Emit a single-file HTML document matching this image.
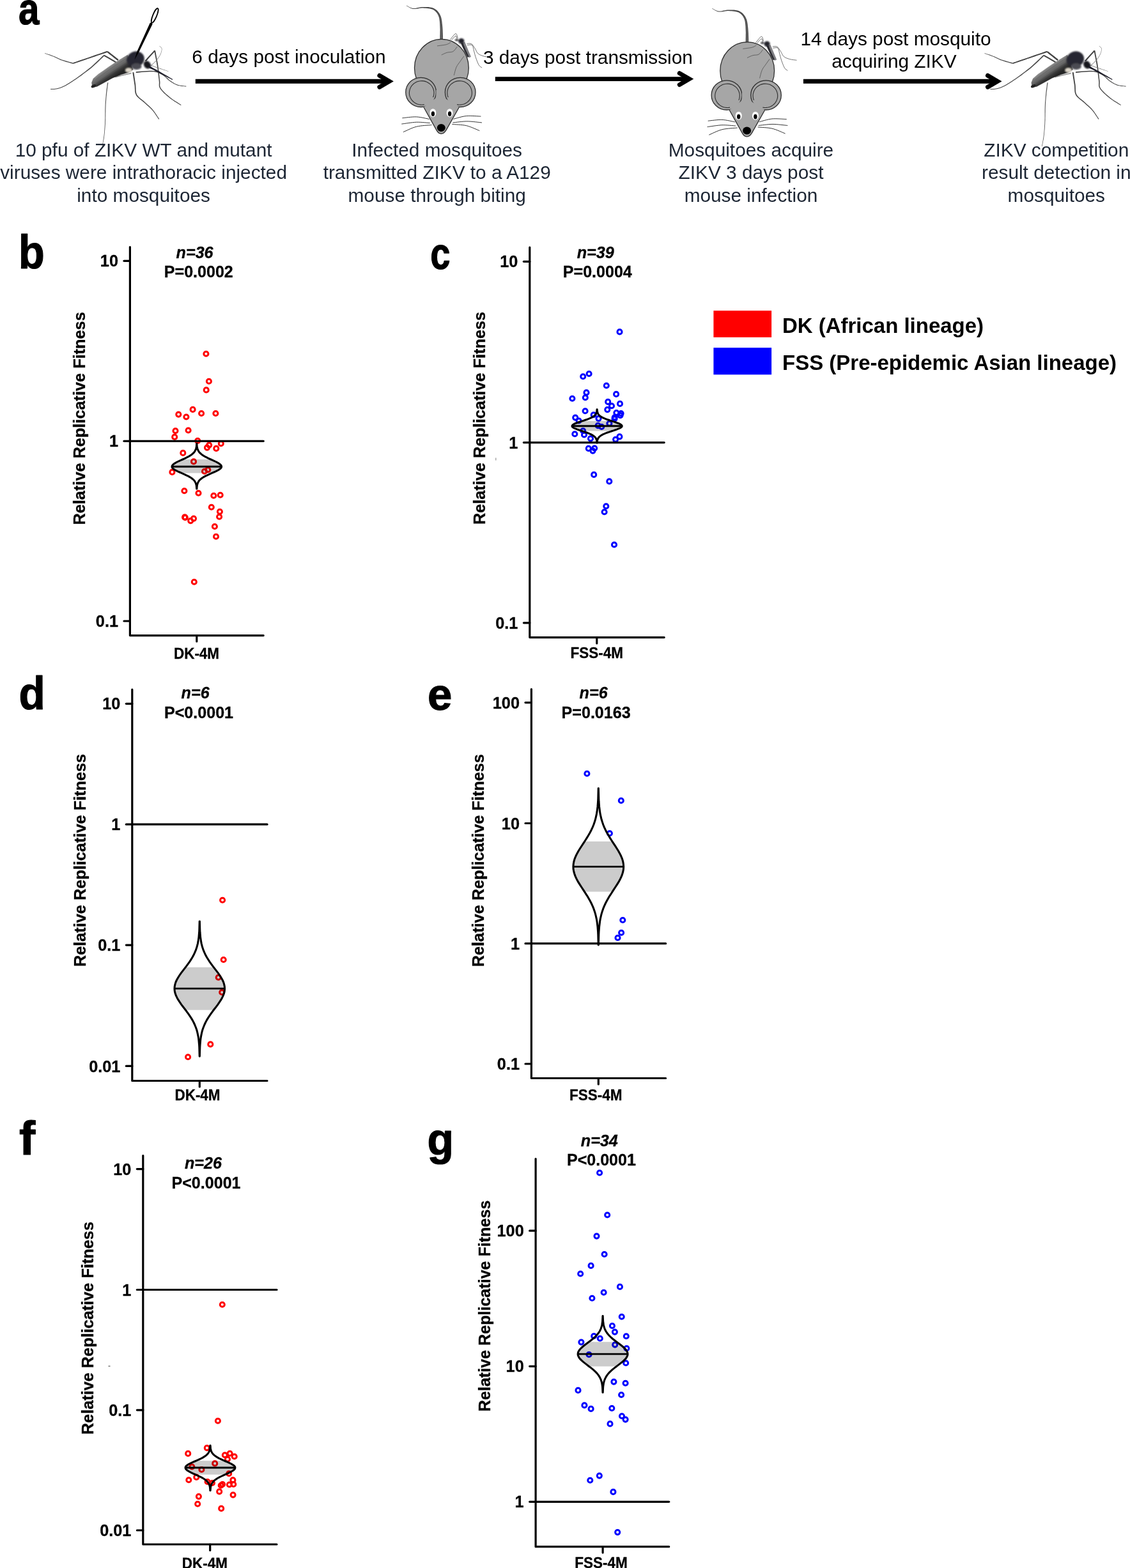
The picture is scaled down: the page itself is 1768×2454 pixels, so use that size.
<!DOCTYPE html>
<html lang="en"><head><meta charset="utf-8"><title>Figure</title>
<style>html,body{margin:0;padding:0;background:#fff}svg{display:block}</style></head><body>
<svg width="1768" height="2454" viewBox="0 0 1768 2454">
<rect width="1768" height="2454" fill="#fff"/>
<defs><filter id="bl" x="-20%" y="-20%" width="140%" height="140%"><feGaussianBlur stdDeviation="0.8"/></filter>
<linearGradient id="abg" gradientUnits="userSpaceOnUse" x1="167.2" y1="101.4" x2="179.7" y2="119.7"><stop offset="0" stop-color="#a6a6a6"/><stop offset="0.25" stop-color="#828282"/><stop offset="0.6" stop-color="#606060"/><stop offset="0.78" stop-color="#3a3a3a"/><stop offset="1" stop-color="#242424"/></linearGradient>
<g id="mosq">
<path d="M185.6 93 L184.2 91.9 L182.2 90.4 L179.8 88.5 L177.1 86.5 L174.5 84.5 L172.1 82.6 L170.1 81 L168.6 79.9 L167.3 81.7 L168.7 82.8 L170.7 84.4 L173.1 86.3 L175.7 88.3 L178.3 90.4 L180.7 92.3 L182.7 93.9 L184.1 95 Z" fill="#434343"/>
<path d="M167.6 79.8 L165.5 80.6 L162.7 81.5 L159.4 82.7 L155.7 83.9 L151.8 85.3 L147.9 86.6 L144 87.9 L140.5 89.2 L137 90.4 L133.2 91.7 L129.4 93 L125.6 94.3 L122 95.6 L118.8 96.7 L116.1 97.6 L114.1 98.3 L114.6 100 L116.7 99.3 L119.4 98.3 L122.6 97.2 L126.2 96 L129.9 94.7 L133.8 93.4 L137.6 92.1 L141.1 90.9 L144.6 89.7 L148.5 88.4 L152.4 87.1 L156.3 85.8 L160 84.5 L163.4 83.4 L166.2 82.4 L168.3 81.7 Z" fill="#434343"/>
<path d="M114.6 98.4 L113.2 98 L111.3 97.5 L109 96.9 L106.5 96.3 L104 95.6 L101.4 94.8 L99 94.1 L96.9 93.4 L95.1 92.7 L93.3 92 L91.7 91.3 L90.1 90.5 L88.5 89.8 L86.9 89.1 L85.3 88.3 L83.7 87.7 L81.9 87 L80 86.3 L78.1 85.6 L76.2 85 L74.4 84.4 L72.8 83.9 L71.4 83.4 L70.4 83.1 L70.2 83.8 L71.2 84.2 L72.5 84.6 L74.1 85.2 L75.9 85.8 L77.8 86.5 L79.7 87.2 L81.6 87.9 L83.3 88.6 L84.9 89.3 L86.5 90 L88 90.8 L89.6 91.5 L91.2 92.3 L92.9 93.1 L94.6 93.9 L96.5 94.6 L98.6 95.3 L101 96.1 L103.6 96.9 L106.2 97.6 L108.6 98.3 L110.9 98.9 L112.8 99.5 L114.1 99.9 Z" fill="#505050"/>
<path d="M182.4 96.8 L180.8 95.9 L178.6 94.5 L175.8 93 L172.9 91.3 L169.9 89.6 L167.2 88.1 L164.9 86.8 L163.3 85.8 L162.3 87.5 L163.9 88.4 L166.2 89.7 L168.9 91.3 L171.9 93 L174.8 94.8 L177.5 96.3 L179.8 97.7 L181.4 98.6 Z" fill="#434343"/>
<path d="M162.2 86 L160.6 87.5 L158.6 89.5 L156.1 91.9 L153.4 94.5 L150.5 97.3 L147.5 100 L144.6 102.7 L141.8 105.2 L138.9 107.5 L136 109.8 L133 112.2 L129.9 114.5 L126.9 116.8 L123.9 118.9 L121.1 121 L118.4 122.9 L115.9 124.6 L113.5 126.2 L111.1 127.8 L108.9 129.2 L106.7 130.5 L104.7 131.8 L102.7 132.9 L100.9 133.9 L99.1 134.8 L97.5 135.6 L96 136.2 L94.6 136.8 L93.3 137.2 L91.9 137.6 L90.6 138 L89.3 138.3 L87.9 138.6 L86.4 138.8 L84.9 138.9 L83.5 139 L82.1 139 L80.9 139 L79.9 139.1 L79.1 139.1 L79.1 140 L79.9 140 L80.9 140 L82.1 139.9 L83.5 139.9 L85 139.9 L86.5 139.7 L88 139.6 L89.5 139.3 L90.9 139 L92.2 138.6 L93.6 138.2 L95 137.7 L96.4 137.2 L98 136.5 L99.6 135.8 L101.4 134.9 L103.3 133.9 L105.3 132.8 L107.4 131.5 L109.5 130.2 L111.8 128.8 L114.1 127.3 L116.6 125.6 L119.1 123.9 L121.8 122 L124.7 120 L127.7 117.9 L130.7 115.6 L133.8 113.3 L136.9 111 L139.9 108.7 L142.8 106.4 L145.6 103.9 L148.6 101.2 L151.7 98.5 L154.6 95.7 L157.3 93.1 L159.8 90.8 L161.9 88.8 L163.4 87.3 Z" fill="#484848"/>
<path d="M168.1 129.2 L167.9 130.5 L167.6 132.3 L167.4 134.4 L167.1 136.8 L166.7 139.3 L166.4 141.9 L166.1 144.4 L165.9 146.8 L165.7 149.1 L165.5 151.4 L165.3 153.6 L165.1 155.9 L164.9 158.3 L164.7 160.7 L164.6 163.3 L164.5 166 L164.4 168.8 L164.3 171.9 L164.3 175 L164.3 178.3 L164.3 181.5 L164.3 184.8 L164.2 187.9 L164.1 190.9 L164 193.9 L163.8 196.8 L163.6 199.7 L163.4 202.5 L163.2 205.2 L163 207.9 L162.7 210.5 L162.4 212.9 L162.1 215.3 L161.7 217.8 L161.3 220.1 L160.9 222.4 L160.5 224.5 L160.1 226.3 L159.8 227.9 L159.5 229.1 L160.2 229.2 L160.5 228 L160.8 226.4 L161.2 224.6 L161.6 222.5 L162 220.3 L162.5 217.9 L162.9 215.5 L163.2 213 L163.5 210.6 L163.8 208 L164 205.3 L164.3 202.6 L164.5 199.7 L164.7 196.8 L164.9 193.9 L165 191 L165.2 187.9 L165.2 184.8 L165.3 181.5 L165.3 178.3 L165.4 175 L165.4 171.9 L165.5 168.9 L165.6 166 L165.7 163.3 L165.9 160.8 L166 158.4 L166.2 156 L166.4 153.7 L166.6 151.5 L166.9 149.2 L167.1 146.9 L167.3 144.6 L167.7 142 L168 139.5 L168.3 137 L168.6 134.6 L168.9 132.5 L169.2 130.7 L169.3 129.3 Z" fill="#5c5c5c"/>
<path d="M207.4 113.3 L207.6 114.7 L207.9 116.8 L208.3 119.1 L208.7 121.8 L209.2 124.6 L209.6 127.3 L210 130 L210.4 132.3 L210.7 134.5 L210.8 136.6 L210.9 138.7 L211 140.8 L211.1 142.8 L211.4 144.9 L212 146.8 L212.8 148.7 L213.9 150.5 L215.3 152.1 L216.9 153.6 L218.6 155.1 L220.4 156.5 L222.2 157.8 L223.9 159.2 L225.5 160.6 L227.1 162.1 L228.7 163.5 L230.3 164.9 L231.9 166.3 L233.5 167.7 L235.1 169.2 L236.6 170.7 L238 172.2 L239.5 174 L241 176 L242.5 178.1 L243.9 180.2 L245.3 182.3 L246.5 184.1 L247.5 185.7 L248.3 186.8 L249.2 186.3 L248.4 185.1 L247.4 183.6 L246.2 181.7 L244.8 179.6 L243.4 177.5 L241.9 175.3 L240.4 173.3 L238.9 171.5 L237.5 169.8 L235.9 168.3 L234.4 166.8 L232.8 165.3 L231.2 163.9 L229.6 162.5 L228 161 L226.4 159.6 L224.8 158.1 L223.1 156.7 L221.3 155.3 L219.6 153.9 L217.9 152.5 L216.5 151.1 L215.2 149.6 L214.2 148 L213.5 146.3 L213 144.5 L212.8 142.7 L212.6 140.7 L212.6 138.6 L212.5 136.5 L212.4 134.3 L212.2 132.1 L211.8 129.7 L211.4 127 L211 124.3 L210.6 121.5 L210.2 118.8 L209.9 116.5 L209.6 114.4 L209.3 112.9 Z" fill="#434343"/>
<path d="M228.3 96.2 L229.5 94.9 L231.2 92.9 L233.3 90.6 L235.6 88.1 L237.8 85.6 L239.9 83.3 L241.7 81.4 L242.9 80 L241.4 78.6 L240.2 80 L238.4 81.9 L236.3 84.2 L234 86.7 L231.7 89.2 L229.6 91.5 L227.9 93.4 L226.6 94.7 Z" fill="#434343"/>
<path d="M241.2 79.5 L241.6 81.3 L242.1 83.7 L242.6 86.6 L243.3 89.8 L243.9 93.1 L244.6 96.6 L245.2 99.9 L245.7 103 L246.2 106 L246.6 109.1 L247 112.2 L247.4 115.4 L247.8 118.5 L248.1 121.4 L248.5 124 L248.7 126.4 L248.9 128.4 L248.9 130 L248.8 131.4 L248.8 132.7 L248.8 134 L249 135.4 L249.5 136.8 L250.4 138.4 L251.6 140.2 L253.1 142 L254.9 143.9 L256.8 145.9 L258.9 147.8 L261 149.7 L263.2 151.5 L265.3 153.2 L267.5 154.9 L269.9 156.6 L272.5 158.4 L275.1 160 L277.5 161.5 L279.8 162.9 L281.6 164.1 L283 164.9 L283.5 164.1 L282.2 163.2 L280.3 162 L278.1 160.6 L275.7 159.1 L273.1 157.4 L270.6 155.7 L268.2 154 L266 152.3 L264 150.6 L261.9 148.8 L259.8 146.9 L257.7 145 L255.8 143 L254.1 141.2 L252.7 139.4 L251.5 137.7 L250.8 136.3 L250.4 135 L250.2 133.9 L250.2 132.8 L250.3 131.5 L250.4 130 L250.4 128.3 L250.2 126.2 L249.9 123.9 L249.6 121.2 L249.3 118.3 L249 115.2 L248.6 112.1 L248.2 108.9 L247.8 105.7 L247.4 102.7 L246.9 99.6 L246.3 96.2 L245.7 92.8 L245 89.4 L244.4 86.2 L243.9 83.4 L243.4 81 L243.1 79.1 Z" fill="#434343"/>
<path d="M212.8 113.9 L215.1 113.8 L218.2 113.5 L221.8 113.1 L225.9 112.8 L230 112.5 L234 112.3 L237.6 112.2 L240.6 112.3 L243 112.7 L245.2 113.2 L247.1 113.8 L248.8 114.5 L250.4 115.4 L252 116.2 L253.5 117.1 L255 118.1 L256.5 119 L257.8 120 L259.1 121.1 L260.3 122.3 L261.4 123.5 L262.7 124.6 L263.9 125.8 L265.3 126.8 L266.7 127.8 L268.1 128.7 L269.5 129.6 L271 130.5 L272.5 131.3 L274 132.1 L275.6 132.8 L277.2 133.4 L279 133.9 L281 134.3 L283 134.7 L285 134.9 L287 135.1 L288.7 135.3 L290.2 135.4 L291.3 135.6 L291.4 134.7 L290.3 134.5 L288.8 134.4 L287.1 134.2 L285.2 134 L283.1 133.7 L281.1 133.4 L279.2 132.9 L277.6 132.4 L276 131.8 L274.5 131.2 L273 130.4 L271.6 129.6 L270.1 128.7 L268.7 127.8 L267.3 126.8 L266 125.9 L264.7 124.9 L263.5 123.8 L262.3 122.6 L261.1 121.4 L259.9 120.2 L258.6 119.1 L257.2 118 L255.7 117 L254.2 116 L252.6 115.1 L251.1 114.2 L249.4 113.3 L247.6 112.5 L245.6 111.8 L243.3 111.3 L240.7 110.9 L237.6 110.7 L233.9 110.8 L229.9 110.9 L225.7 111.2 L221.7 111.5 L218 111.8 L214.9 112.1 L212.7 112.3 Z" fill="#434343"/>
<path d="M180.6 121.4 L181.6 121.2 L182.9 120.8 L184.4 120.4 L186.1 120 L187.9 119.5 L189.7 119.1 L191.5 118.6 L193.1 118.2 L194.8 117.8 L196.5 117.4 L198.3 117 L200.1 116.6 L201.8 116.2 L203.4 115.9 L204.6 115.6 L205.6 115.4 L205.2 113.8 L204.3 114 L203 114.3 L201.5 114.7 L199.8 115.1 L198 115.5 L196.2 115.9 L194.4 116.4 L192.8 116.8 L191.1 117.2 L189.3 117.7 L187.5 118.1 L185.7 118.6 L184 119.1 L182.5 119.5 L181.2 119.8 L180.3 120.1 Z" fill="#8f8f8f"/>
<path d="M233.2 101.8 L234.3 102.2 L235.8 102.7 L237.6 103.3 L239.6 104 L241.7 104.7 L243.8 105.4 L245.9 106.2 L247.9 106.8 L249.9 107.5 L252.1 108.2 L254.3 108.9 L256.6 109.7 L258.7 110.3 L260.6 111 L262.2 111.5 L263.4 111.9 L263.5 111.4 L262.3 111 L260.7 110.5 L258.8 109.8 L256.7 109.1 L254.5 108.4 L252.3 107.6 L250.1 106.8 L248.1 106.2 L246.2 105.5 L244.1 104.7 L241.9 104 L239.8 103.2 L237.9 102.5 L236.1 101.9 L234.6 101.3 L233.5 100.9 Z" fill="#777"/>
<path d="M236.6 103.1 L237.3 102.5 L238.2 101.6 L239.4 100.5 L240.6 99.3 L241.9 98 L243.2 96.7 L244.4 95.4 L245.4 94.3 L246.3 93.2 L247.1 92 L248 90.9 L248.7 89.8 L249.5 88.7 L250.1 87.6 L250.7 86.5 L251.3 85.3 L251.8 84.2 L252.2 83 L252.6 81.8 L253 80.6 L253.2 79.4 L253.4 78.3 L253.5 77.3 L253.5 76.3 L253.3 75.5 L252.8 74.7 L252.3 74 L251.7 73.4 L251 72.9 L250.5 72.4 L250 72.1 L249.7 71.8 L249.3 72.2 L249.6 72.5 L250.1 72.9 L250.7 73.3 L251.2 73.9 L251.8 74.4 L252.3 75 L252.7 75.7 L252.8 76.4 L252.9 77.3 L252.8 78.2 L252.6 79.3 L252.3 80.4 L252 81.6 L251.6 82.8 L251.1 83.9 L250.6 85 L250.1 86.1 L249.5 87.2 L248.8 88.3 L248.1 89.4 L247.3 90.5 L246.5 91.6 L245.7 92.7 L244.8 93.7 L243.8 94.9 L242.6 96.1 L241.3 97.4 L240 98.7 L238.8 99.8 L237.6 100.9 L236.7 101.8 L235.9 102.5 Z" fill="#8a8a8a"/>
<path d="M199.5 85.9 L186.3 94 L168.7 105.8 L154 116 L145.9 123.1 L143.4 129.3 L144.5 136.9 L151.8 135.4 L162.8 129.6 L176 122.2 L189.3 117.1 L201 113.4 L208.4 109 Z" fill="url(#abg)" stroke="#555" stroke-width="0.5" stroke-opacity="0.5"/>
<path d="M196.6 91.8 C192.9 94.3 182.4 101 174.6 106.5 C166.7 112 153.8 121.8 149.6 124.9" fill="none" stroke="#5a5a5a" stroke-width="0.7" stroke-opacity="0.7"/>
<path d="M198.8 97.7 C195.3 100 185.5 106.2 177.5 111.6 C169.6 117 155.5 126.9 151.1 130" fill="none" stroke="#4a4a4a" stroke-width="0.7" stroke-opacity="0.7"/>
<path d="M192.2 91.1 C188.8 93.2 179 98.3 171.6 103.6 C164.3 108.8 152 119.5 148.1 122.6" fill="none" stroke="#a2a2a2" stroke-width="0.7" stroke-opacity="0.7"/>
<ellipse cx="146.4" cy="134.8" rx="4" ry="2.2" fill="#222" transform="rotate(-25 146.4 134.8)"/>
<g filter="url(#bl)">
<ellipse cx="201.3" cy="109.9" rx="5.5" ry="3.8" fill="#ddd7ca"/>
<ellipse cx="212" cy="92.8" rx="14" ry="12.2" fill="#272730" transform="rotate(-20 212 92.8)"/>
<ellipse cx="213.5" cy="104" rx="8" ry="5" fill="#4c4c52"/>
<ellipse cx="230.4" cy="101.4" rx="5.2" ry="6.4" fill="#14141e" transform="rotate(-35 230.4 101.4)"/>
</g>
<path d="M232.7 105.8 L234 106.5 L235.8 107.4 L238 108.4 L240.4 109.6 L242.9 110.9 L245.5 112.2 L248.1 113.5 L250.5 114.7 L252.9 116 L255.6 117.4 L258.4 118.9 L261.2 120.4 L263.9 121.9 L266.3 123.1 L268.3 124.2 L269.8 125 L270.3 124.1 L268.9 123.2 L266.9 122 L264.6 120.7 L262 119.1 L259.2 117.5 L256.5 115.9 L253.9 114.4 L251.4 113 L249.1 111.6 L246.5 110.2 L244 108.8 L241.5 107.5 L239.2 106.2 L237.1 105 L235.3 104.1 L234 103.3 Z" fill="#1b1b28"/>
</g><filter id="bl3" x="-30%" y="-30%" width="160%" height="160%"><feGaussianBlur stdDeviation="0.8"/></filter>
<g id="mouse">
<path d="M693 62.4 L692.9 60.8 L692.9 58.6 L692.9 56 L692.8 53.1 L692.7 50 L692.6 47 L692.4 44.1 L692.2 41.5 L692 39.1 L691.7 36.8 L691.5 34.4 L691.2 32.2 L690.8 29.9 L690.3 27.8 L689.7 25.8 L688.9 23.9 L688 22.1 L687 20.4 L685.9 18.9 L684.7 17.4 L683.3 16.1 L681.9 14.9 L680.3 13.9 L678.7 13 L676.8 12.2 L674.8 11.7 L672.7 11.4 L670.6 11.1 L668.4 11 L666.2 10.9 L664.1 10.9 L662 10.9 L659.9 11 L657.9 11.3 L655.8 11.7 L653.7 12.1 L651.8 12.5 L649.9 12.9 L648.1 13 L646.5 13 L644.9 12.8 L643.4 12.3 L641.8 11.7 L640.4 11 L639.1 10.3 L637.9 9.6 L636.9 9 L636.1 8.6 L635.9 9.1 L636.6 9.5 L637.6 10.1 L638.8 10.8 L640.1 11.6 L641.5 12.4 L643.1 13.1 L644.7 13.7 L646.4 14 L648.1 14.1 L650 14 L652 13.8 L654 13.4 L656 13.1 L658.1 12.8 L660.1 12.6 L662 12.6 L664 12.7 L666.1 12.8 L668.3 12.9 L670.4 13.2 L672.4 13.5 L674.3 13.9 L676.1 14.4 L677.6 15.1 L679 16 L680.3 16.9 L681.5 18 L682.6 19.2 L683.7 20.5 L684.6 21.9 L685.4 23.5 L686.1 25 L686.7 26.7 L687.2 28.6 L687.5 30.5 L687.8 32.6 L688 34.8 L688.2 37.1 L688.3 39.4 L688.4 41.7 L688.5 44.3 L688.6 47.1 L688.5 50.1 L688.5 53.1 L688.4 56 L688.4 58.6 L688.3 60.8 L688.3 62.4 Z" fill="#484848"/>
<path d="M691.5 62.4 L691.5 60.8 L691.5 58.6 L691.5 56 L691.4 53.1 L691.4 50.1 L691.3 47 L691.1 44.2 L690.9 41.6 L690.7 39.2 L690.5 36.9 L690.2 34.6 L689.9 32.3 L689.6 30.2 L689.1 28.1 L688.5 26.1 L687.8 24.3 L686.9 22.6 L685.6 20.9 L684.3 19.4 L682.8 18 L681.4 16.7 L680.1 15.6 L679 14.7 L678.2 13.9 L678 14.2 L678.8 14.9 L679.9 15.9 L681.1 17 L682.5 18.3 L683.9 19.8 L685.2 21.3 L686.3 22.9 L687.2 24.6 L687.8 26.4 L688.3 28.3 L688.7 30.3 L689 32.4 L689.2 34.7 L689.4 37 L689.6 39.3 L689.7 41.7 L689.8 44.2 L689.9 47.1 L689.9 50.1 L689.9 53.1 L689.8 56 L689.8 58.6 L689.7 60.8 L689.7 62.4 Z" fill="#6a6a6a"/>
<ellipse cx="690.9" cy="106.3" rx="42.4" ry="44.9" fill="#a6a6a6" stroke="#2e2e2e" stroke-width="1.3"/>
<rect x="672" y="128" width="36" height="34" fill="#a6a6a6"/>
<ellipse cx="658.6" cy="144.4" rx="23.8" ry="23.1" fill="#a6a6a6" stroke="#2e2e2e" stroke-width="1.3"/>
<ellipse cx="720.2" cy="144.4" rx="23.8" ry="23.1" fill="#a6a6a6" stroke="#2e2e2e" stroke-width="1.3"/>
<path d="M677.6 152.3 L678.5 149.7 L678.9 147 L679 144.2 L678.6 141.5 L677.8 138.8 L676.6 136.3 L675.1 134 L673.2 131.9 L671 130.2 L668.6 128.7 L666 127.6 L663.3 126.9 L660.4 126.6 L657.6 126.7 L654.8 127.2 L652.1 128.1 L649.6 129.4 L647.3 131 L645.3 132.9 L643.5 135.1 L642.2 137.5 L641.2 140.1 L640.6 142.8 L640.4 145.5 L640.6 148.3 L641.3 150.9 L642.4 153.5 L643.8 155.9 L645.6 158 L647.6 159.9 L650 161.5 L652.5 162.7 L655.2 163.5 L658.1 163.9 L660.9 164 L663.7 163.6" fill="none" stroke="#2e2e2e" stroke-width="1.1"/>
<path d="M701.2 152.3 L700.3 149.7 L699.9 147 L699.8 144.2 L700.2 141.5 L701 138.8 L702.2 136.3 L703.7 134 L705.6 131.9 L707.8 130.2 L710.2 128.7 L712.8 127.6 L715.5 126.9 L718.4 126.6 L721.2 126.7 L724 127.2 L726.7 128.1 L729.2 129.4 L731.5 131 L733.5 132.9 L735.3 135.1 L736.6 137.5 L737.6 140.1 L738.2 142.8 L738.4 145.5 L738.2 148.3 L737.5 150.9 L736.4 153.5 L735 155.9 L733.2 158 L731.2 159.9 L728.8 161.5 L726.3 162.7 L723.6 163.5 L720.7 163.9 L717.9 164 L715.1 163.6" fill="none" stroke="#2e2e2e" stroke-width="1.1"/>
<path d="M662.9 167.7 L682.8 203.4 Q685.8 209.3 690.3 209.3 Q694.8 209.3 698.2 203.4 L718.4 167.7 L695.1 152.9 L695.1 140.9 L682.4 140.9 L682.4 152.9 Z" fill="#a6a6a6"/>
<path d="M662.9 167.7 L682.8 203.4 Q685.8 209.3 690.3 209.3 Q694.8 209.3 698.2 203.4 L718.4 167.7" fill="none" stroke="#2e2e2e" stroke-width="1.3" stroke-linejoin="round"/>
<ellipse cx="677.4" cy="176.7" rx="5" ry="6.5" fill="#fff"/>
<ellipse cx="677.4" cy="178.1" rx="2.7" ry="3.9" fill="#000"/>
<ellipse cx="703.6" cy="176.7" rx="5" ry="6.5" fill="#fff"/>
<ellipse cx="703.6" cy="178.1" rx="2.7" ry="3.9" fill="#000"/>
<ellipse cx="690.3" cy="200" rx="6.5" ry="5.9" fill="#000"/>
<g fill="none" stroke="#333" stroke-width="1" stroke-linecap="round">
<path d="M671.4 186.4 C668.1 185.8 658.6 183.2 651.6 182.9 C644.7 182.6 633.4 184.4 629.8 184.7"/>
<path d="M672.4 192.5 C669 192.3 658.9 191 651.6 191.2 C644.3 191.5 632.5 193.6 628.7 194"/>
<path d="M675 195.6 C671.1 196 658.9 196.4 651.6 198.2 C644.3 200 634.7 205.1 631.3 206.5"/>
<path d="M709.9 186.2 C713.2 185.4 722.6 182.2 729.6 181.5 C736.7 180.9 748.3 182 752 182.1"/>
<path d="M708.8 191.9 C712.5 191.6 723.2 189.9 730.7 189.9 C738.1 189.9 749.8 191.6 753.6 191.9"/>
<path d="M707.8 194.5 C711.4 194.9 722.6 195 729.6 196.6 C736.7 198.3 746.5 203.1 749.9 204.4"/>
</g>
<g fill="none" stroke="#454545" stroke-width="0.7" stroke-linecap="round">
<path d="M684.4 71.8 C686.7 71.4 695 70.6 698.4 69.7 C701.8 68.8 703.6 67.1 704.7 66.6"/>
<path d="M691.1 85.8 C692.5 85.2 696.5 83.1 699.5 82.2 C702.4 81.3 706.2 82.1 708.8 80.6 C711.4 79.2 714 74.6 715.1 73.3"/>
<path d="M710.4 117.6 C711 115.5 712.4 108.7 714 105.1 C715.7 101.4 718.4 98.5 720.3 95.7 C722.2 92.9 724.6 89.6 725.5 88.4"/>
</g>
<g fill="none" stroke="#505050" stroke-width="0.8" stroke-linecap="round">
<path d="M730.9 68.4 C732 68.4 735.6 67.4 737.7 68.7 C739.7 69.9 741.4 73.4 743.2 75.9 C744.9 78.5 745.7 81.9 748.1 84 C750.4 86 754.1 87.2 757.4 88.1 C760.7 89.1 766.1 89.4 767.8 89.7"/>
<path d="M731.4 70.7 C732.6 70.7 737 69.2 738.7 70.7 C740.4 72.3 740.7 77 741.6 80.1 C742.5 83.2 743 85.9 744.2 89.5 C745.5 93.1 747.5 98.9 749.1 101.6 C750.7 104.4 753 105.1 753.8 105.8"/>
<path d="M704.2 62.4 C705.3 61 709.3 55.7 710.9 54.1 C712.6 52.5 713.2 52.2 714 53.1 C714.9 53.9 715.8 58.3 716.1 59.3"/>
<path d="M706.8 62.4 C707.8 61.4 711.6 56.4 713 56.2 C714.4 55.9 714.7 60.1 715.1 60.9"/>
</g>
<path d="M722.9 67.4 L723.3 68.3 L723.9 69.5 L724.5 70.9 L725.3 72.4 L726.1 74.1 L726.9 75.7 L727.6 77.3 L728.3 78.8 L729 80.3 L729.8 82 L730.6 83.6 L731.3 85.3 L732 86.8 L732.7 88.3 L733.2 89.4 L733.7 90.3 L736.9 88.9 L736.6 88 L736.1 86.8 L735.5 85.3 L734.8 83.8 L734.1 82.1 L733.4 80.4 L732.7 78.7 L732.1 77.2 L731.4 75.6 L730.7 74 L730 72.3 L729.3 70.6 L728.6 69 L728 67.6 L727.5 66.4 L727.1 65.6 Z" fill="#808084"/>
<path d="M721 67.6 L721.4 68.5 L721.9 69.6 L722.4 70.9 L723.1 72.4 L723.8 74 L724.5 75.6 L725.2 77.1 L725.9 78.6 L726.6 80.1 L727.4 81.6 L728.2 83.3 L729 84.9 L729.8 86.4 L730.5 87.7 L731.1 88.9 L731.5 89.7 L733.7 88.7 L733.3 87.8 L732.7 86.6 L732.1 85.2 L731.4 83.7 L730.6 82.1 L729.9 80.5 L729.2 78.9 L728.5 77.4 L727.9 75.9 L727.3 74.4 L726.7 72.8 L726 71.2 L725.5 69.7 L724.9 68.3 L724.5 67.2 L724.2 66.4 Z" fill="#2c2c32"/>
<g filter="url(#bl3)">
<ellipse cx="721.8" cy="64.2" rx="4.6" ry="4.2" fill="#24242c"/>
<ellipse cx="714.4" cy="62.7" rx="2.7" ry="1.4" fill="#0e0e16"/>
</g>
</g></defs>
<use href="#mosq"/>
<ellipse cx="242.2" cy="24.3" rx="12.1" ry="3" transform="rotate(112.5 242.2 24.3)" fill="#fff" stroke="#000" stroke-width="1.8"/>
<path d="M234.6 35.9 L214.3 80.7 L210.5 93.6 L217.1 82.1 L238.6 37.7 L237.4 35 Z" fill="#000"/>
<use href="#mosq" transform="translate(1470.3 0)"/>
<use href="#mouse"/>
<use href="#mouse" transform="translate(478.3 4.5)"/>
<line x1="305.8" y1="127.2" x2="609.1" y2="127.2" stroke="#000" stroke-width="6.9"/><path d="M593.8 118.2 L609.1 127.2 L593.8 136.2" fill="none" stroke="#000" stroke-width="6.9" stroke-linecap="round" stroke-linejoin="miter"/>
<line x1="774.8" y1="123.6" x2="1078.5" y2="123.6" stroke="#000" stroke-width="6.9"/><path d="M1063.2 114.6 L1078.5 123.6 L1063.2 132.6" fill="none" stroke="#000" stroke-width="6.9" stroke-linecap="round" stroke-linejoin="miter"/>
<line x1="1256.9" y1="127.2" x2="1560.7" y2="127.2" stroke="#000" stroke-width="6.9"/><path d="M1545.4 118.2 L1560.7 127.2 L1545.4 136.2" fill="none" stroke="#000" stroke-width="6.9" stroke-linecap="round" stroke-linejoin="miter"/>
<g font-family="Liberation Sans, Arial, sans-serif" font-size="29.8" fill="#000" text-anchor="middle">
<text x="451.9" y="98.8">6 days post inoculation</text>
<text x="919.9" y="100.1">3 days post transmission</text>
<text x="1401.5" y="70.5">14 days post mosquito</text>
<text x="1398.9" y="106">acquiring ZIKV</text>
</g>
<g font-family="Liberation Sans, Arial, sans-serif" font-size="29.8" fill="#1c2533" text-anchor="middle">
<text x="224.6" y="244.7">10 pfu of ZIKV WT and mutant</text>
<text x="224.6" y="280.4">viruses were intrathoracic injected</text>
<text x="224.6" y="316.2">into mosquitoes</text>
<text x="683.7" y="244.7">Infected mosquitoes</text>
<text x="683.7" y="280.4">transmitted ZIKV to a A129</text>
<text x="683.7" y="316.2">mouse through biting</text>
<text x="1175" y="244.7">Mosquitoes acquire</text>
<text x="1175" y="280.4">ZIKV 3 days post</text>
<text x="1175" y="316.2">mouse infection</text>
<text x="1652.8" y="244.7">ZIKV competition</text>
<text x="1652.8" y="280.4">result detection in</text>
<text x="1652.8" y="316.2">mosquitoes</text>
</g>
<text transform="translate(29 38.3) scale(0.834 1)" font-family="Liberation Sans, Arial, sans-serif" font-weight="bold" font-size="69.9" fill="#000" stroke="#000" stroke-width="1.2" stroke-linejoin="round">a</text>
<!-- panel b -->
<g fill="none" stroke="#ff0000" stroke-width="3">
<circle cx="322.4" cy="553.7" r="3.55"/>
<circle cx="326.9" cy="596.7" r="3.55"/>
<circle cx="322.7" cy="610.4" r="3.55"/>
<circle cx="301.6" cy="640.9" r="3.55"/>
<circle cx="279.3" cy="648.6" r="3.55"/>
<circle cx="291.4" cy="652.5" r="3.55"/>
<circle cx="315.1" cy="647" r="3.55"/>
<circle cx="337.4" cy="647" r="3.55"/>
<circle cx="274.5" cy="674.2" r="3.55"/>
<circle cx="294.6" cy="673.5" r="3.55"/>
<circle cx="273.2" cy="683.9" r="3.55"/>
<circle cx="309.2" cy="689.9" r="3.55"/>
<circle cx="345.8" cy="694.2" r="3.55"/>
<circle cx="327.2" cy="696.6" r="3.55"/>
<circle cx="324" cy="700.6" r="3.55"/>
<circle cx="338.3" cy="701.9" r="3.55"/>
<circle cx="286.3" cy="708.9" r="3.55"/>
<circle cx="303" cy="722.4" r="3.55"/>
<circle cx="325.3" cy="735.3" r="3.55"/>
<circle cx="320" cy="737.7" r="3.55"/>
<circle cx="269.4" cy="738.9" r="3.55"/>
<circle cx="288.4" cy="768.3" r="3.55"/>
<circle cx="310.5" cy="771.8" r="3.55"/>
<circle cx="334.3" cy="775.8" r="3.55"/>
<circle cx="344.7" cy="774.7" r="3.55"/>
<circle cx="330.8" cy="793.8" r="3.55"/>
<circle cx="343.9" cy="800.8" r="3.55"/>
<circle cx="343.1" cy="808.7" r="3.55"/>
<circle cx="289.8" cy="810" r="3.55"/>
<circle cx="289.1" cy="809.4" r="3.55"/>
<circle cx="303" cy="811.6" r="3.55"/>
<circle cx="298.2" cy="815.1" r="3.55"/>
<circle cx="335.9" cy="824" r="3.55"/>
<circle cx="338" cy="839.8" r="3.55"/>
<circle cx="303.8" cy="910.7" r="3.55"/>
</g>
<clipPath id="cpb"><path d="M307.9 694.2 L308 695.4 L308 696.6 L308.2 697.7 L308.3 698.9 L308.5 700.1 L308.7 701.3 L309 702.5 L309.5 703.6 L310 704.8 L310.6 706 L311.4 707.2 L312.4 708.4 L313.5 709.5 L314.9 710.7 L316.4 711.9 L318.2 713.1 L320.2 714.3 L322.4 715.4 L324.7 716.6 L327.2 717.8 L329.8 719 L332.4 720.2 L335 721.3 L337.5 722.5 L339.8 723.7 L341.9 724.9 L343.6 726.1 L345 727.2 L346 728.4 L346.5 729.6 L346.6 730.8 L346.1 732 L345.1 733.1 L343.7 734.3 L341.9 735.5 L339.7 736.7 L337.3 737.9 L334.7 739 L332 740.2 L329.3 741.4 L326.6 742.6 L324.1 743.8 L321.7 744.9 L319.5 746.1 L317.5 747.3 L315.7 748.5 L314.2 749.7 L312.9 750.8 L311.8 752 L310.9 753.2 L310.2 754.4 L309.6 755.6 L309.2 756.7 L308.8 757.9 L308.5 759.1 L308.3 760.3 L308.2 761.5 L308.1 762.6 L308 763.8 L307.9 765 L307.7 765 L307.6 763.8 L307.5 762.6 L307.4 761.5 L307.3 760.3 L307.1 759.1 L306.8 757.9 L306.4 756.7 L306 755.6 L305.4 754.4 L304.7 753.2 L303.8 752 L302.7 750.8 L301.4 749.7 L299.9 748.5 L298.1 747.3 L296.1 746.1 L293.9 744.9 L291.5 743.8 L289 742.6 L286.3 741.4 L283.6 740.2 L280.9 739 L278.3 737.9 L275.9 736.7 L273.7 735.5 L271.9 734.3 L270.5 733.1 L269.5 732 L269 730.8 L269.1 729.6 L269.6 728.4 L270.6 727.2 L272 726.1 L273.7 724.9 L275.8 723.7 L278.1 722.5 L280.6 721.3 L283.2 720.2 L285.8 719 L288.4 717.8 L290.9 716.6 L293.2 715.4 L295.4 714.3 L297.4 713.1 L299.2 711.9 L300.7 710.7 L302.1 709.5 L303.2 708.4 L304.2 707.2 L305 706 L305.6 704.8 L306.1 703.6 L306.6 702.5 L306.9 701.3 L307.1 700.1 L307.3 698.9 L307.4 697.7 L307.6 696.6 L307.6 695.4 L307.7 694.2 Z"/></clipPath>
<rect x="267" y="718.9" width="81.6" height="21.5" fill="#000" fill-opacity="0.2" clip-path="url(#cpb)"/>
<path d="M307.9 694.2 L308 695.4 L308 696.6 L308.2 697.7 L308.3 698.9 L308.5 700.1 L308.7 701.3 L309 702.5 L309.5 703.6 L310 704.8 L310.6 706 L311.4 707.2 L312.4 708.4 L313.5 709.5 L314.9 710.7 L316.4 711.9 L318.2 713.1 L320.2 714.3 L322.4 715.4 L324.7 716.6 L327.2 717.8 L329.8 719 L332.4 720.2 L335 721.3 L337.5 722.5 L339.8 723.7 L341.9 724.9 L343.6 726.1 L345 727.2 L346 728.4 L346.5 729.6 L346.6 730.8 L346.1 732 L345.1 733.1 L343.7 734.3 L341.9 735.5 L339.7 736.7 L337.3 737.9 L334.7 739 L332 740.2 L329.3 741.4 L326.6 742.6 L324.1 743.8 L321.7 744.9 L319.5 746.1 L317.5 747.3 L315.7 748.5 L314.2 749.7 L312.9 750.8 L311.8 752 L310.9 753.2 L310.2 754.4 L309.6 755.6 L309.2 756.7 L308.8 757.9 L308.5 759.1 L308.3 760.3 L308.2 761.5 L308.1 762.6 L308 763.8 L307.9 765 L307.7 765 L307.6 763.8 L307.5 762.6 L307.4 761.5 L307.3 760.3 L307.1 759.1 L306.8 757.9 L306.4 756.7 L306 755.6 L305.4 754.4 L304.7 753.2 L303.8 752 L302.7 750.8 L301.4 749.7 L299.9 748.5 L298.1 747.3 L296.1 746.1 L293.9 744.9 L291.5 743.8 L289 742.6 L286.3 741.4 L283.6 740.2 L280.9 739 L278.3 737.9 L275.9 736.7 L273.7 735.5 L271.9 734.3 L270.5 733.1 L269.5 732 L269 730.8 L269.1 729.6 L269.6 728.4 L270.6 727.2 L272 726.1 L273.7 724.9 L275.8 723.7 L278.1 722.5 L280.6 721.3 L283.2 720.2 L285.8 719 L288.4 717.8 L290.9 716.6 L293.2 715.4 L295.4 714.3 L297.4 713.1 L299.2 711.9 L300.7 710.7 L302.1 709.5 L303.2 708.4 L304.2 707.2 L305 706 L305.6 704.8 L306.1 703.6 L306.6 702.5 L306.9 701.3 L307.1 700.1 L307.3 698.9 L307.4 697.7 L307.6 696.6 L307.6 695.4 L307.7 694.2 Z" fill="none" stroke="#000" stroke-width="3.05" stroke-linejoin="round"/>
<line x1="269" y1="730.3" x2="346.6" y2="730.3" stroke="#000" stroke-width="2.9"/>
<g stroke="#000" stroke-width="3.2" fill="none" stroke-linecap="round" stroke-linejoin="round">
<path d="M203.4 386.6 V994.6 H412.2"/>
<line x1="194" y1="408.3" x2="203.4" y2="408.3"/>
<line x1="194" y1="690.3" x2="203.4" y2="690.3"/>
<line x1="194" y1="972" x2="203.4" y2="972"/>
<line x1="203.4" y1="690.3" x2="412.2" y2="690.3"/>
<line x1="307.8" y1="994.6" x2="307.8" y2="1004"/>
</g>
<g font-family="Liberation Sans, Arial, sans-serif" font-weight="bold" fill="#000" stroke="#000" stroke-width="0.3">
<text transform="translate(185 417.4) scale(1 1.04)" font-size="25.3" text-anchor="end">10</text>
<text transform="translate(185 699.4) scale(1 1.04)" font-size="25.3" text-anchor="end">1</text>
<text transform="translate(185 981.1) scale(1 1.04)" font-size="25.3" text-anchor="end">0.1</text>
<text transform="translate(307.5 1030.5) scale(1 1.04)" font-size="22.5" text-anchor="middle">DK-4M</text>
<text transform="translate(304.6 403.5) scale(1 1.04)" font-size="25.3" text-anchor="middle" font-style="italic" textLength="58" lengthAdjust="spacingAndGlyphs">n=36</text>
<text transform="translate(310.8 434.1) scale(1 1.04)" font-size="25.3" text-anchor="middle" textLength="108" lengthAdjust="spacingAndGlyphs">P=0.0002</text>
<text transform="translate(132.7 654.9) rotate(-90) scale(1 1.03)" font-size="25.4" text-anchor="middle" textLength="333.2" lengthAdjust="spacingAndGlyphs">Relative Replicative Fitness</text>
</g>
<text transform="translate(28.9 420.3) scale(0.910 1)" font-family="Liberation Sans, Arial, sans-serif" font-weight="bold" font-size="73.3" fill="#000" stroke="#000" stroke-width="1.2" stroke-linejoin="round">b</text>
<!-- panel c -->
<g fill="none" stroke="#0000ff" stroke-width="3">
<circle cx="969.5" cy="519.4" r="3.55"/>
<circle cx="921.6" cy="585" r="3.55"/>
<circle cx="912.2" cy="589.3" r="3.55"/>
<circle cx="948.8" cy="603.5" r="3.55"/>
<circle cx="917.5" cy="614.4" r="3.55"/>
<circle cx="964.1" cy="616.9" r="3.55"/>
<circle cx="915.8" cy="622.2" r="3.55"/>
<circle cx="895.4" cy="623.7" r="3.55"/>
<circle cx="951.2" cy="628.9" r="3.55"/>
<circle cx="970" cy="631.9" r="3.55"/>
<circle cx="957" cy="635.3" r="3.55"/>
<circle cx="950.3" cy="641.1" r="3.55"/>
<circle cx="915.6" cy="643.2" r="3.55"/>
<circle cx="964.4" cy="646" r="3.55"/>
<circle cx="971.6" cy="647" r="3.55"/>
<circle cx="970.6" cy="650.1" r="3.55"/>
<circle cx="928.7" cy="649.2" r="3.55"/>
<circle cx="961.7" cy="653.3" r="3.55"/>
<circle cx="961.5" cy="655.5" r="3.55"/>
<circle cx="900.2" cy="653.6" r="3.55"/>
<circle cx="936.5" cy="655.1" r="3.55"/>
<circle cx="905.6" cy="658.5" r="3.55"/>
<circle cx="953.4" cy="662.7" r="3.55"/>
<circle cx="935.6" cy="666.1" r="3.55"/>
<circle cx="941.2" cy="668" r="3.55"/>
<circle cx="912.2" cy="674.2" r="3.55"/>
<circle cx="899.3" cy="679.2" r="3.55"/>
<circle cx="914" cy="680.5" r="3.55"/>
<circle cx="924" cy="686.4" r="3.55"/>
<circle cx="969.4" cy="683.4" r="3.55"/>
<circle cx="963.1" cy="687.7" r="3.55"/>
<circle cx="920.8" cy="701.9" r="3.55"/>
<circle cx="930.2" cy="701.5" r="3.55"/>
<circle cx="927.5" cy="705.6" r="3.55"/>
<circle cx="929.2" cy="742.9" r="3.55"/>
<circle cx="953.3" cy="753.4" r="3.55"/>
<circle cx="948.3" cy="792.3" r="3.55"/>
<circle cx="945.6" cy="801.2" r="3.55"/>
<circle cx="961" cy="852.5" r="3.55"/>
</g>
<clipPath id="cpc"><path d="M934.2 640.8 L934.3 641.7 L934.4 642.5 L934.5 643.4 L934.6 644.3 L934.8 645.1 L935.1 646 L935.4 646.9 L935.9 647.8 L936.4 648.6 L937.1 649.5 L938 650.4 L939 651.2 L940.3 652.1 L941.7 653 L943.4 653.8 L945.3 654.7 L947.5 655.6 L949.8 656.5 L952.3 657.3 L954.9 658.2 L957.6 659.1 L960.2 659.9 L962.9 660.8 L965.3 661.7 L967.6 662.5 L969.6 663.4 L971.1 664.3 L972.3 665.2 L973 666 L973.2 666.9 L972.9 667.8 L972.1 668.6 L970.9 669.5 L969.2 670.4 L967.2 671.2 L964.9 672.1 L962.4 673 L959.8 673.9 L957.1 674.7 L954.5 675.6 L951.9 676.5 L949.4 677.3 L947.2 678.2 L945.1 679.1 L943.2 679.9 L941.6 680.8 L940.1 681.7 L938.9 682.6 L937.9 683.4 L937.1 684.3 L936.4 685.2 L935.8 686 L935.4 686.9 L935.1 687.8 L934.8 688.6 L934.6 689.5 L934.5 690.4 L934.4 691.3 L934.3 692.1 L934.2 693 L934 693 L933.9 692.1 L933.8 691.3 L933.7 690.4 L933.6 689.5 L933.4 688.6 L933.1 687.8 L932.8 686.9 L932.4 686 L931.8 685.2 L931.1 684.3 L930.3 683.4 L929.3 682.6 L928.1 681.7 L926.6 680.8 L925 679.9 L923.1 679.1 L921 678.2 L918.8 677.3 L916.3 676.5 L913.7 675.6 L911.1 674.7 L908.4 673.9 L905.8 673 L903.3 672.1 L901 671.2 L899 670.4 L897.3 669.5 L896.1 668.6 L895.3 667.8 L895 666.9 L895.2 666 L895.9 665.2 L897.1 664.3 L898.6 663.4 L900.6 662.5 L902.9 661.7 L905.3 660.8 L908 659.9 L910.6 659.1 L913.3 658.2 L915.9 657.3 L918.4 656.5 L920.7 655.6 L922.9 654.7 L924.8 653.8 L926.5 653 L927.9 652.1 L929.2 651.2 L930.2 650.4 L931.1 649.5 L931.8 648.6 L932.3 647.8 L932.8 646.9 L933.1 646 L933.4 645.1 L933.6 644.3 L933.7 643.4 L933.8 642.5 L933.9 641.7 L934 640.8 Z"/></clipPath>
<rect x="893" y="658.9" width="82.2" height="15.7" fill="#000" fill-opacity="0.2" clip-path="url(#cpc)"/>
<path d="M934.2 640.8 L934.3 641.7 L934.4 642.5 L934.5 643.4 L934.6 644.3 L934.8 645.1 L935.1 646 L935.4 646.9 L935.9 647.8 L936.4 648.6 L937.1 649.5 L938 650.4 L939 651.2 L940.3 652.1 L941.7 653 L943.4 653.8 L945.3 654.7 L947.5 655.6 L949.8 656.5 L952.3 657.3 L954.9 658.2 L957.6 659.1 L960.2 659.9 L962.9 660.8 L965.3 661.7 L967.6 662.5 L969.6 663.4 L971.1 664.3 L972.3 665.2 L973 666 L973.2 666.9 L972.9 667.8 L972.1 668.6 L970.9 669.5 L969.2 670.4 L967.2 671.2 L964.9 672.1 L962.4 673 L959.8 673.9 L957.1 674.7 L954.5 675.6 L951.9 676.5 L949.4 677.3 L947.2 678.2 L945.1 679.1 L943.2 679.9 L941.6 680.8 L940.1 681.7 L938.9 682.6 L937.9 683.4 L937.1 684.3 L936.4 685.2 L935.8 686 L935.4 686.9 L935.1 687.8 L934.8 688.6 L934.6 689.5 L934.5 690.4 L934.4 691.3 L934.3 692.1 L934.2 693 L934 693 L933.9 692.1 L933.8 691.3 L933.7 690.4 L933.6 689.5 L933.4 688.6 L933.1 687.8 L932.8 686.9 L932.4 686 L931.8 685.2 L931.1 684.3 L930.3 683.4 L929.3 682.6 L928.1 681.7 L926.6 680.8 L925 679.9 L923.1 679.1 L921 678.2 L918.8 677.3 L916.3 676.5 L913.7 675.6 L911.1 674.7 L908.4 673.9 L905.8 673 L903.3 672.1 L901 671.2 L899 670.4 L897.3 669.5 L896.1 668.6 L895.3 667.8 L895 666.9 L895.2 666 L895.9 665.2 L897.1 664.3 L898.6 663.4 L900.6 662.5 L902.9 661.7 L905.3 660.8 L908 659.9 L910.6 659.1 L913.3 658.2 L915.9 657.3 L918.4 656.5 L920.7 655.6 L922.9 654.7 L924.8 653.8 L926.5 653 L927.9 652.1 L929.2 651.2 L930.2 650.4 L931.1 649.5 L931.8 648.6 L932.3 647.8 L932.8 646.9 L933.1 646 L933.4 645.1 L933.6 644.3 L933.7 643.4 L933.8 642.5 L933.9 641.7 L934 640.8 Z" fill="none" stroke="#000" stroke-width="3.05" stroke-linejoin="round"/>
<line x1="895" y1="666.8" x2="973.2" y2="666.8" stroke="#000" stroke-width="2.9"/>
<g stroke="#000" stroke-width="3.2" fill="none" stroke-linecap="round" stroke-linejoin="round">
<path d="M828.8 387.2 V997.6 H1039.2"/>
<line x1="819.4" y1="409.3" x2="828.8" y2="409.3"/>
<line x1="819.4" y1="692.6" x2="828.8" y2="692.6"/>
<line x1="819.4" y1="974.8" x2="828.8" y2="974.8"/>
<line x1="828.8" y1="692.6" x2="1039.2" y2="692.6"/>
<line x1="933.8" y1="997.6" x2="933.8" y2="1007"/>
</g>
<g font-family="Liberation Sans, Arial, sans-serif" font-weight="bold" fill="#000" stroke="#000" stroke-width="0.3">
<text transform="translate(810.4 418.4) scale(1 1.04)" font-size="25.3" text-anchor="end">10</text>
<text transform="translate(810.4 701.7) scale(1 1.04)" font-size="25.3" text-anchor="end">1</text>
<text transform="translate(810.4 983.9) scale(1 1.04)" font-size="25.3" text-anchor="end">0.1</text>
<text transform="translate(933.8 1029.5) scale(1 1.04)" font-size="22.5" text-anchor="middle">FSS-4M</text>
<text transform="translate(931.7 403.5) scale(1 1.04)" font-size="25.3" text-anchor="middle" font-style="italic" textLength="58" lengthAdjust="spacingAndGlyphs">n=39</text>
<text transform="translate(934.8 434.1) scale(1 1.04)" font-size="25.3" text-anchor="middle" textLength="108" lengthAdjust="spacingAndGlyphs">P=0.0004</text>
<text transform="translate(759.1 654.5) rotate(-90) scale(1 1.03)" font-size="25.4" text-anchor="middle" textLength="333.2" lengthAdjust="spacingAndGlyphs">Relative Replicative Fitness</text>
</g>
<text transform="translate(673.3 420.7) scale(0.799 1)" font-family="Liberation Sans, Arial, sans-serif" font-weight="bold" font-size="70.3" fill="#000" stroke="#000" stroke-width="1.2" stroke-linejoin="round">c</text>
<!-- panel d -->
<g fill="none" stroke="#ff0000" stroke-width="3">
<circle cx="348.1" cy="1408.8" r="3.55"/>
<circle cx="349.7" cy="1502" r="3.55"/>
<circle cx="341.7" cy="1529.8" r="3.55"/>
<circle cx="347.2" cy="1553" r="3.55"/>
<circle cx="329.3" cy="1634.4" r="3.55"/>
<circle cx="294.1" cy="1654.2" r="3.55"/>
</g>
<clipPath id="cpd"><path d="M312.4 1441.9 L312.5 1445.4 L312.6 1448.9 L312.7 1452.5 L312.8 1456 L313 1459.5 L313.3 1463 L313.6 1466.6 L314.1 1470.1 L314.6 1473.6 L315.3 1477.1 L316.2 1480.7 L317.3 1484.2 L318.5 1487.7 L320 1491.2 L321.7 1494.8 L323.6 1498.3 L325.8 1501.8 L328.1 1505.3 L330.6 1508.8 L333.2 1512.4 L335.9 1515.9 L338.6 1519.4 L341.3 1522.9 L343.8 1526.5 L346 1530 L348 1533.5 L349.6 1537 L350.7 1540.6 L351.4 1544.1 L351.6 1547.6 L351.3 1551.1 L350.5 1554.6 L349.2 1558.2 L347.5 1561.7 L345.5 1565.2 L343.2 1568.7 L340.7 1572.3 L338.1 1575.8 L335.4 1579.3 L332.7 1582.8 L330.1 1586.4 L327.7 1589.9 L325.4 1593.4 L323.3 1596.9 L321.4 1600.5 L319.8 1604 L318.4 1607.5 L317.1 1611 L316.1 1614.5 L315.3 1618.1 L314.6 1621.6 L314 1625.1 L313.6 1628.6 L313.3 1632.2 L313 1635.7 L312.8 1639.2 L312.7 1642.7 L312.6 1646.3 L312.5 1649.8 L312.4 1653.3 L312.2 1653.3 L312.1 1649.8 L312 1646.3 L311.9 1642.7 L311.8 1639.2 L311.6 1635.7 L311.3 1632.2 L311 1628.6 L310.6 1625.1 L310 1621.6 L309.3 1618.1 L308.5 1614.5 L307.5 1611 L306.2 1607.5 L304.8 1604 L303.2 1600.5 L301.3 1596.9 L299.2 1593.4 L296.9 1589.9 L294.5 1586.4 L291.9 1582.8 L289.2 1579.3 L286.5 1575.8 L283.9 1572.3 L281.4 1568.7 L279.1 1565.2 L277.1 1561.7 L275.4 1558.2 L274.1 1554.6 L273.3 1551.1 L273 1547.6 L273.2 1544.1 L273.9 1540.6 L275 1537 L276.6 1533.5 L278.6 1530 L280.8 1526.5 L283.3 1522.9 L286 1519.4 L288.7 1515.9 L291.4 1512.4 L294 1508.8 L296.5 1505.3 L298.8 1501.8 L301 1498.3 L302.9 1494.8 L304.6 1491.2 L306.1 1487.7 L307.3 1484.2 L308.4 1480.7 L309.3 1477.1 L310 1473.6 L310.5 1470.1 L311 1466.6 L311.3 1463 L311.6 1459.5 L311.8 1456 L311.9 1452.5 L312 1448.9 L312.1 1445.4 L312.2 1441.9 Z"/></clipPath>
<rect x="271" y="1513.8" width="82.6" height="66.9" fill="#000" fill-opacity="0.2" clip-path="url(#cpd)"/>
<path d="M312.4 1441.9 L312.5 1445.4 L312.6 1448.9 L312.7 1452.5 L312.8 1456 L313 1459.5 L313.3 1463 L313.6 1466.6 L314.1 1470.1 L314.6 1473.6 L315.3 1477.1 L316.2 1480.7 L317.3 1484.2 L318.5 1487.7 L320 1491.2 L321.7 1494.8 L323.6 1498.3 L325.8 1501.8 L328.1 1505.3 L330.6 1508.8 L333.2 1512.4 L335.9 1515.9 L338.6 1519.4 L341.3 1522.9 L343.8 1526.5 L346 1530 L348 1533.5 L349.6 1537 L350.7 1540.6 L351.4 1544.1 L351.6 1547.6 L351.3 1551.1 L350.5 1554.6 L349.2 1558.2 L347.5 1561.7 L345.5 1565.2 L343.2 1568.7 L340.7 1572.3 L338.1 1575.8 L335.4 1579.3 L332.7 1582.8 L330.1 1586.4 L327.7 1589.9 L325.4 1593.4 L323.3 1596.9 L321.4 1600.5 L319.8 1604 L318.4 1607.5 L317.1 1611 L316.1 1614.5 L315.3 1618.1 L314.6 1621.6 L314 1625.1 L313.6 1628.6 L313.3 1632.2 L313 1635.7 L312.8 1639.2 L312.7 1642.7 L312.6 1646.3 L312.5 1649.8 L312.4 1653.3 L312.2 1653.3 L312.1 1649.8 L312 1646.3 L311.9 1642.7 L311.8 1639.2 L311.6 1635.7 L311.3 1632.2 L311 1628.6 L310.6 1625.1 L310 1621.6 L309.3 1618.1 L308.5 1614.5 L307.5 1611 L306.2 1607.5 L304.8 1604 L303.2 1600.5 L301.3 1596.9 L299.2 1593.4 L296.9 1589.9 L294.5 1586.4 L291.9 1582.8 L289.2 1579.3 L286.5 1575.8 L283.9 1572.3 L281.4 1568.7 L279.1 1565.2 L277.1 1561.7 L275.4 1558.2 L274.1 1554.6 L273.3 1551.1 L273 1547.6 L273.2 1544.1 L273.9 1540.6 L275 1537 L276.6 1533.5 L278.6 1530 L280.8 1526.5 L283.3 1522.9 L286 1519.4 L288.7 1515.9 L291.4 1512.4 L294 1508.8 L296.5 1505.3 L298.8 1501.8 L301 1498.3 L302.9 1494.8 L304.6 1491.2 L306.1 1487.7 L307.3 1484.2 L308.4 1480.7 L309.3 1477.1 L310 1473.6 L310.5 1470.1 L311 1466.6 L311.3 1463 L311.6 1459.5 L311.8 1456 L311.9 1452.5 L312 1448.9 L312.1 1445.4 L312.2 1441.9 Z" fill="none" stroke="#000" stroke-width="3.05" stroke-linejoin="round"/>
<line x1="273" y1="1547.1" x2="351.6" y2="1547.1" stroke="#000" stroke-width="2.9"/>
<g stroke="#000" stroke-width="3.2" fill="none" stroke-linecap="round" stroke-linejoin="round">
<path d="M206.8 1079.1 V1691.5 H418"/>
<line x1="197.4" y1="1101.3" x2="206.8" y2="1101.3"/>
<line x1="197.4" y1="1290.2" x2="206.8" y2="1290.2"/>
<line x1="197.4" y1="1479.1" x2="206.8" y2="1479.1"/>
<line x1="197.4" y1="1668.4" x2="206.8" y2="1668.4"/>
<line x1="206.8" y1="1290.2" x2="418" y2="1290.2"/>
<line x1="312.3" y1="1691.5" x2="312.3" y2="1700.9"/>
</g>
<g font-family="Liberation Sans, Arial, sans-serif" font-weight="bold" fill="#000" stroke="#000" stroke-width="0.3">
<text transform="translate(188.4 1110.4) scale(1 1.04)" font-size="25.3" text-anchor="end">10</text>
<text transform="translate(188.4 1299.3) scale(1 1.04)" font-size="25.3" text-anchor="end">1</text>
<text transform="translate(188.4 1488.2) scale(1 1.04)" font-size="25.3" text-anchor="end">0.1</text>
<text transform="translate(188.4 1677.5) scale(1 1.04)" font-size="25.3" text-anchor="end">0.01</text>
<text transform="translate(309 1721.5) scale(1 1.04)" font-size="22.5" text-anchor="middle">DK-4M</text>
<text transform="translate(305.6 1093) scale(1 1.04)" font-size="25.3" text-anchor="middle" font-style="italic" textLength="44" lengthAdjust="spacingAndGlyphs">n=6</text>
<text transform="translate(311 1124) scale(1 1.04)" font-size="25.3" text-anchor="middle" textLength="108" lengthAdjust="spacingAndGlyphs">P&lt;0.0001</text>
<text transform="translate(134.2 1346.5) rotate(-90) scale(1 1.03)" font-size="25.4" text-anchor="middle" textLength="333.2" lengthAdjust="spacingAndGlyphs">Relative Replicative Fitness</text>
</g>
<text transform="translate(29.4 1110.3) scale(0.926 1)" font-family="Liberation Sans, Arial, sans-serif" font-weight="bold" font-size="72.9" fill="#000" stroke="#000" stroke-width="1.2" stroke-linejoin="round">d</text>
<!-- panel e -->
<g fill="none" stroke="#0000ff" stroke-width="3">
<circle cx="918.4" cy="1210.7" r="3.55"/>
<circle cx="971.8" cy="1253" r="3.55"/>
<circle cx="953.9" cy="1304.2" r="3.55"/>
<circle cx="974.3" cy="1440" r="3.55"/>
<circle cx="972.1" cy="1459.8" r="3.55"/>
<circle cx="966.5" cy="1467.8" r="3.55"/>
</g>
<clipPath id="cpe"><path d="M936.4 1233.8 L936.5 1237.9 L936.6 1242 L936.7 1246.1 L936.8 1250.1 L937 1254.2 L937.3 1258.3 L937.6 1262.4 L938.1 1266.5 L938.6 1270.6 L939.3 1274.7 L940.2 1278.7 L941.2 1282.8 L942.5 1286.9 L943.9 1291 L945.6 1295.1 L947.5 1299.2 L949.6 1303.2 L951.9 1307.3 L954.4 1311.4 L957 1315.5 L959.7 1319.6 L962.4 1323.7 L965 1327.8 L967.5 1331.8 L969.8 1335.9 L971.8 1340 L973.5 1344.1 L974.7 1348.2 L975.4 1352.3 L975.7 1356.3 L975.5 1360.4 L974.7 1364.5 L973.5 1368.6 L971.9 1372.7 L969.9 1376.8 L967.6 1380.9 L965.1 1384.9 L962.4 1389 L959.7 1393.1 L957.1 1397.2 L954.4 1401.3 L951.9 1405.4 L949.6 1409.5 L947.5 1413.5 L945.6 1417.6 L943.9 1421.7 L942.5 1425.8 L941.2 1429.9 L940.2 1434 L939.3 1438.1 L938.6 1442.1 L938.1 1446.2 L937.6 1450.3 L937.3 1454.4 L937 1458.5 L936.8 1462.6 L936.7 1466.6 L936.6 1470.7 L936.5 1474.8 L936.4 1478.9 L936.2 1478.9 L936.1 1474.8 L936 1470.7 L935.9 1466.6 L935.8 1462.6 L935.6 1458.5 L935.3 1454.4 L935 1450.3 L934.5 1446.2 L934 1442.1 L933.3 1438.1 L932.4 1434 L931.4 1429.9 L930.1 1425.8 L928.7 1421.7 L927 1417.6 L925.1 1413.5 L923 1409.5 L920.7 1405.4 L918.2 1401.3 L915.5 1397.2 L912.9 1393.1 L910.2 1389 L907.5 1384.9 L905 1380.9 L902.7 1376.8 L900.7 1372.7 L899.1 1368.6 L897.9 1364.5 L897.1 1360.4 L896.9 1356.3 L897.2 1352.3 L897.9 1348.2 L899.1 1344.1 L900.8 1340 L902.8 1335.9 L905.1 1331.8 L907.6 1327.8 L910.2 1323.7 L912.9 1319.6 L915.6 1315.5 L918.2 1311.4 L920.7 1307.3 L923 1303.2 L925.1 1299.2 L927 1295.1 L928.7 1291 L930.1 1286.9 L931.4 1282.8 L932.4 1278.7 L933.3 1274.7 L934 1270.6 L934.5 1266.5 L935 1262.4 L935.3 1258.3 L935.6 1254.2 L935.8 1250.1 L935.9 1246.1 L936 1242 L936.1 1237.9 L936.2 1233.8 Z"/></clipPath>
<rect x="894.9" y="1316.9" width="82.8" height="78.7" fill="#000" fill-opacity="0.2" clip-path="url(#cpe)"/>
<path d="M936.4 1233.8 L936.5 1237.9 L936.6 1242 L936.7 1246.1 L936.8 1250.1 L937 1254.2 L937.3 1258.3 L937.6 1262.4 L938.1 1266.5 L938.6 1270.6 L939.3 1274.7 L940.2 1278.7 L941.2 1282.8 L942.5 1286.9 L943.9 1291 L945.6 1295.1 L947.5 1299.2 L949.6 1303.2 L951.9 1307.3 L954.4 1311.4 L957 1315.5 L959.7 1319.6 L962.4 1323.7 L965 1327.8 L967.5 1331.8 L969.8 1335.9 L971.8 1340 L973.5 1344.1 L974.7 1348.2 L975.4 1352.3 L975.7 1356.3 L975.5 1360.4 L974.7 1364.5 L973.5 1368.6 L971.9 1372.7 L969.9 1376.8 L967.6 1380.9 L965.1 1384.9 L962.4 1389 L959.7 1393.1 L957.1 1397.2 L954.4 1401.3 L951.9 1405.4 L949.6 1409.5 L947.5 1413.5 L945.6 1417.6 L943.9 1421.7 L942.5 1425.8 L941.2 1429.9 L940.2 1434 L939.3 1438.1 L938.6 1442.1 L938.1 1446.2 L937.6 1450.3 L937.3 1454.4 L937 1458.5 L936.8 1462.6 L936.7 1466.6 L936.6 1470.7 L936.5 1474.8 L936.4 1478.9 L936.2 1478.9 L936.1 1474.8 L936 1470.7 L935.9 1466.6 L935.8 1462.6 L935.6 1458.5 L935.3 1454.4 L935 1450.3 L934.5 1446.2 L934 1442.1 L933.3 1438.1 L932.4 1434 L931.4 1429.9 L930.1 1425.8 L928.7 1421.7 L927 1417.6 L925.1 1413.5 L923 1409.5 L920.7 1405.4 L918.2 1401.3 L915.5 1397.2 L912.9 1393.1 L910.2 1389 L907.5 1384.9 L905 1380.9 L902.7 1376.8 L900.7 1372.7 L899.1 1368.6 L897.9 1364.5 L897.1 1360.4 L896.9 1356.3 L897.2 1352.3 L897.9 1348.2 L899.1 1344.1 L900.8 1340 L902.8 1335.9 L905.1 1331.8 L907.6 1327.8 L910.2 1323.7 L912.9 1319.6 L915.6 1315.5 L918.2 1311.4 L920.7 1307.3 L923 1303.2 L925.1 1299.2 L927 1295.1 L928.7 1291 L930.1 1286.9 L931.4 1282.8 L932.4 1278.7 L933.3 1274.7 L934 1270.6 L934.5 1266.5 L935 1262.4 L935.3 1258.3 L935.6 1254.2 L935.8 1250.1 L935.9 1246.1 L936 1242 L936.1 1237.9 L936.2 1233.8 Z" fill="none" stroke="#000" stroke-width="3.05" stroke-linejoin="round"/>
<line x1="896.9" y1="1356.4" x2="975.7" y2="1356.4" stroke="#000" stroke-width="2.9"/>
<g stroke="#000" stroke-width="3.2" fill="none" stroke-linecap="round" stroke-linejoin="round">
<path d="M831.4 1078.6 V1687.5 H1041.6"/>
<line x1="822" y1="1099.6" x2="831.4" y2="1099.6"/>
<line x1="822" y1="1288.5" x2="831.4" y2="1288.5"/>
<line x1="822" y1="1476.7" x2="831.4" y2="1476.7"/>
<line x1="822" y1="1665" x2="831.4" y2="1665"/>
<line x1="831.4" y1="1476.7" x2="1041.6" y2="1476.7"/>
<line x1="936.3" y1="1687.5" x2="936.3" y2="1696.9"/>
</g>
<g font-family="Liberation Sans, Arial, sans-serif" font-weight="bold" fill="#000" stroke="#000" stroke-width="0.3">
<text transform="translate(813 1108.7) scale(1 1.04)" font-size="25.3" text-anchor="end">100</text>
<text transform="translate(813 1297.6) scale(1 1.04)" font-size="25.3" text-anchor="end">10</text>
<text transform="translate(813 1485.8) scale(1 1.04)" font-size="25.3" text-anchor="end">1</text>
<text transform="translate(813 1674.1) scale(1 1.04)" font-size="25.3" text-anchor="end">0.1</text>
<text transform="translate(932.3 1721.5) scale(1 1.04)" font-size="22.5" text-anchor="middle">FSS-4M</text>
<text transform="translate(928.6 1093) scale(1 1.04)" font-size="25.3" text-anchor="middle" font-style="italic" textLength="44" lengthAdjust="spacingAndGlyphs">n=6</text>
<text transform="translate(932.6 1124) scale(1 1.04)" font-size="25.3" text-anchor="middle" textLength="108" lengthAdjust="spacingAndGlyphs">P=0.0163</text>
<text transform="translate(757.2 1346.7) rotate(-90) scale(1 1.03)" font-size="25.4" text-anchor="middle" textLength="333.2" lengthAdjust="spacingAndGlyphs">Relative Replicative Fitness</text>
</g>
<text transform="translate(669.1 1110.7) scale(0.981 1)" font-family="Liberation Sans, Arial, sans-serif" font-weight="bold" font-size="70.3" fill="#000" stroke="#000" stroke-width="1.2" stroke-linejoin="round">e</text>
<!-- panel f -->
<g fill="none" stroke="#ff0000" stroke-width="3">
<circle cx="340.9" cy="2223.8" r="3.55"/>
<circle cx="323.8" cy="2266.1" r="3.55"/>
<circle cx="294.2" cy="2274.9" r="3.55"/>
<circle cx="351.8" cy="2277.3" r="3.55"/>
<circle cx="359.6" cy="2274.8" r="3.55"/>
<circle cx="366.7" cy="2279.5" r="3.55"/>
<circle cx="356" cy="2283.8" r="3.55"/>
<circle cx="336.2" cy="2290.4" r="3.55"/>
<circle cx="300.3" cy="2295.5" r="3.55"/>
<circle cx="315.4" cy="2300" r="3.55"/>
<circle cx="358.2" cy="2306.3" r="3.55"/>
<circle cx="307.3" cy="2311.9" r="3.55"/>
<circle cx="295.3" cy="2316.2" r="3.55"/>
<circle cx="364.4" cy="2316.4" r="3.55"/>
<circle cx="324.6" cy="2319" r="3.55"/>
<circle cx="332" cy="2321" r="3.55"/>
<circle cx="358.9" cy="2323.5" r="3.55"/>
<circle cx="365.3" cy="2323" r="3.55"/>
<circle cx="348.1" cy="2323" r="3.55"/>
<circle cx="345.7" cy="2324.7" r="3.55"/>
<circle cx="343.2" cy="2334.4" r="3.55"/>
<circle cx="364.6" cy="2339.6" r="3.55"/>
<circle cx="310.9" cy="2342.1" r="3.55"/>
<circle cx="309.2" cy="2353.8" r="3.55"/>
<circle cx="346.2" cy="2360.9" r="3.55"/>
<circle cx="347.8" cy="2041.7" r="3.55"/>
</g>
<clipPath id="cpf"><path d="M329.1 2262.3 L329.2 2263.5 L329.3 2264.7 L329.4 2265.8 L329.5 2267 L329.7 2268.2 L330 2269.4 L330.3 2270.5 L330.8 2271.7 L331.4 2272.9 L332.1 2274.1 L333 2275.2 L334.1 2276.4 L335.4 2277.6 L336.9 2278.8 L338.6 2279.9 L340.6 2281.1 L342.8 2282.3 L345.2 2283.5 L347.7 2284.6 L350.4 2285.8 L353.1 2287 L355.8 2288.2 L358.4 2289.3 L360.8 2290.5 L363 2291.7 L364.9 2292.9 L366.4 2294 L367.4 2295.2 L367.9 2296.4 L367.9 2297.6 L367.5 2298.7 L366.5 2299.9 L365.2 2301.1 L363.4 2302.2 L361.4 2303.4 L359.1 2304.6 L356.6 2305.8 L354 2307 L351.3 2308.1 L348.7 2309.3 L346.2 2310.5 L343.8 2311.7 L341.6 2312.8 L339.6 2314 L337.8 2315.2 L336.2 2316.4 L334.8 2317.5 L333.7 2318.7 L332.7 2319.9 L331.9 2321.1 L331.2 2322.2 L330.7 2323.4 L330.3 2324.6 L329.9 2325.8 L329.7 2326.9 L329.5 2328.1 L329.4 2329.3 L329.3 2330.5 L329.2 2331.6 L329.1 2332.8 L328.9 2332.8 L328.8 2331.6 L328.7 2330.5 L328.6 2329.3 L328.5 2328.1 L328.3 2326.9 L328.1 2325.8 L327.7 2324.6 L327.3 2323.4 L326.8 2322.2 L326.1 2321.1 L325.3 2319.9 L324.3 2318.7 L323.2 2317.5 L321.8 2316.4 L320.2 2315.2 L318.4 2314 L316.4 2312.8 L314.2 2311.7 L311.8 2310.5 L309.3 2309.3 L306.7 2308.1 L304 2307 L301.4 2305.8 L298.9 2304.6 L296.6 2303.4 L294.6 2302.2 L292.8 2301.1 L291.5 2299.9 L290.5 2298.7 L290.1 2297.6 L290.1 2296.4 L290.6 2295.2 L291.6 2294 L293.1 2292.9 L295 2291.7 L297.2 2290.5 L299.6 2289.3 L302.2 2288.2 L304.9 2287 L307.6 2285.8 L310.3 2284.6 L312.8 2283.5 L315.2 2282.3 L317.4 2281.1 L319.4 2279.9 L321.1 2278.8 L322.6 2277.6 L323.9 2276.4 L325 2275.2 L325.9 2274.1 L326.6 2272.9 L327.2 2271.7 L327.7 2270.5 L328 2269.4 L328.3 2268.2 L328.5 2267 L328.6 2265.8 L328.7 2264.7 L328.8 2263.5 L328.9 2262.3 Z"/></clipPath>
<rect x="288" y="2286.2" width="82" height="21.6" fill="#000" fill-opacity="0.2" clip-path="url(#cpf)"/>
<path d="M329.1 2262.3 L329.2 2263.5 L329.3 2264.7 L329.4 2265.8 L329.5 2267 L329.7 2268.2 L330 2269.4 L330.3 2270.5 L330.8 2271.7 L331.4 2272.9 L332.1 2274.1 L333 2275.2 L334.1 2276.4 L335.4 2277.6 L336.9 2278.8 L338.6 2279.9 L340.6 2281.1 L342.8 2282.3 L345.2 2283.5 L347.7 2284.6 L350.4 2285.8 L353.1 2287 L355.8 2288.2 L358.4 2289.3 L360.8 2290.5 L363 2291.7 L364.9 2292.9 L366.4 2294 L367.4 2295.2 L367.9 2296.4 L367.9 2297.6 L367.5 2298.7 L366.5 2299.9 L365.2 2301.1 L363.4 2302.2 L361.4 2303.4 L359.1 2304.6 L356.6 2305.8 L354 2307 L351.3 2308.1 L348.7 2309.3 L346.2 2310.5 L343.8 2311.7 L341.6 2312.8 L339.6 2314 L337.8 2315.2 L336.2 2316.4 L334.8 2317.5 L333.7 2318.7 L332.7 2319.9 L331.9 2321.1 L331.2 2322.2 L330.7 2323.4 L330.3 2324.6 L329.9 2325.8 L329.7 2326.9 L329.5 2328.1 L329.4 2329.3 L329.3 2330.5 L329.2 2331.6 L329.1 2332.8 L328.9 2332.8 L328.8 2331.6 L328.7 2330.5 L328.6 2329.3 L328.5 2328.1 L328.3 2326.9 L328.1 2325.8 L327.7 2324.6 L327.3 2323.4 L326.8 2322.2 L326.1 2321.1 L325.3 2319.9 L324.3 2318.7 L323.2 2317.5 L321.8 2316.4 L320.2 2315.2 L318.4 2314 L316.4 2312.8 L314.2 2311.7 L311.8 2310.5 L309.3 2309.3 L306.7 2308.1 L304 2307 L301.4 2305.8 L298.9 2304.6 L296.6 2303.4 L294.6 2302.2 L292.8 2301.1 L291.5 2299.9 L290.5 2298.7 L290.1 2297.6 L290.1 2296.4 L290.6 2295.2 L291.6 2294 L293.1 2292.9 L295 2291.7 L297.2 2290.5 L299.6 2289.3 L302.2 2288.2 L304.9 2287 L307.6 2285.8 L310.3 2284.6 L312.8 2283.5 L315.2 2282.3 L317.4 2281.1 L319.4 2279.9 L321.1 2278.8 L322.6 2277.6 L323.9 2276.4 L325 2275.2 L325.9 2274.1 L326.6 2272.9 L327.2 2271.7 L327.7 2270.5 L328 2269.4 L328.3 2268.2 L328.5 2267 L328.6 2265.8 L328.7 2264.7 L328.8 2263.5 L328.9 2262.3 Z" fill="none" stroke="#000" stroke-width="3.05" stroke-linejoin="round"/>
<line x1="290" y1="2297" x2="368" y2="2297" stroke="#000" stroke-width="2.9"/>
<g stroke="#000" stroke-width="3.2" fill="none" stroke-linecap="round" stroke-linejoin="round">
<path d="M223.8 1808.6 V2417 H433"/>
<line x1="214.4" y1="1829.6" x2="223.8" y2="1829.6"/>
<line x1="214.4" y1="2018.5" x2="223.8" y2="2018.5"/>
<line x1="214.4" y1="2206.8" x2="223.8" y2="2206.8"/>
<line x1="214.4" y1="2395" x2="223.8" y2="2395"/>
<line x1="223.8" y1="2018.5" x2="433" y2="2018.5"/>
<line x1="328.7" y1="2417" x2="328.7" y2="2426.4"/>
</g>
<g font-family="Liberation Sans, Arial, sans-serif" font-weight="bold" fill="#000" stroke="#000" stroke-width="0.3">
<text transform="translate(205.4 1838.7) scale(1 1.04)" font-size="25.3" text-anchor="end">10</text>
<text transform="translate(205.4 2027.6) scale(1 1.04)" font-size="25.3" text-anchor="end">1</text>
<text transform="translate(205.4 2215.9) scale(1 1.04)" font-size="25.3" text-anchor="end">0.1</text>
<text transform="translate(205.4 2404.1) scale(1 1.04)" font-size="25.3" text-anchor="end">0.01</text>
<text transform="translate(320.4 2454.5) scale(1 1.04)" font-size="22.5" text-anchor="middle">DK-4M</text>
<text transform="translate(317.9 1829) scale(1 1.04)" font-size="25.3" text-anchor="middle" font-style="italic" textLength="58" lengthAdjust="spacingAndGlyphs">n=26</text>
<text transform="translate(322.5 1859.9) scale(1 1.04)" font-size="25.3" text-anchor="middle" textLength="108" lengthAdjust="spacingAndGlyphs">P&lt;0.0001</text>
<text transform="translate(146.2 2078.6) rotate(-90) scale(1 1.03)" font-size="25.4" text-anchor="middle" textLength="333.2" lengthAdjust="spacingAndGlyphs">Relative Replicative Fitness</text>
</g>
<text transform="translate(30 1807) scale(1.019 1)" font-family="Liberation Sans, Arial, sans-serif" font-weight="bold" font-size="74.1" fill="#000" stroke="#000" stroke-width="1.2" stroke-linejoin="round">f</text>
<!-- panel g -->
<g fill="none" stroke="#0000ff" stroke-width="3">
<circle cx="938.1" cy="1835.5" r="3.55"/>
<circle cx="950.2" cy="1901.5" r="3.55"/>
<circle cx="933.5" cy="1934.6" r="3.55"/>
<circle cx="945.6" cy="1963" r="3.55"/>
<circle cx="924.6" cy="1980.9" r="3.55"/>
<circle cx="908.2" cy="1993.5" r="3.55"/>
<circle cx="969.9" cy="2013.9" r="3.55"/>
<circle cx="944.6" cy="2022.8" r="3.55"/>
<circle cx="926.4" cy="2031.8" r="3.55"/>
<circle cx="972.7" cy="2060.8" r="3.55"/>
<circle cx="957.9" cy="2075" r="3.55"/>
<circle cx="961.9" cy="2084.6" r="3.55"/>
<circle cx="979.8" cy="2091.3" r="3.55"/>
<circle cx="929.2" cy="2091" r="3.55"/>
<circle cx="938.8" cy="2094.7" r="3.55"/>
<circle cx="909.4" cy="2100.6" r="3.55"/>
<circle cx="962.2" cy="2104.6" r="3.55"/>
<circle cx="980.4" cy="2110.2" r="3.55"/>
<circle cx="921.5" cy="2120" r="3.55"/>
<circle cx="979.2" cy="2133.3" r="3.55"/>
<circle cx="960.4" cy="2162.6" r="3.55"/>
<circle cx="978.6" cy="2164.8" r="3.55"/>
<circle cx="904.5" cy="2175.9" r="3.55"/>
<circle cx="972.1" cy="2183" r="3.55"/>
<circle cx="914.4" cy="2199.4" r="3.55"/>
<circle cx="924.6" cy="2204.9" r="3.55"/>
<circle cx="957.3" cy="2204" r="3.55"/>
<circle cx="973" cy="2216.3" r="3.55"/>
<circle cx="978.6" cy="2221.6" r="3.55"/>
<circle cx="954.5" cy="2228.4" r="3.55"/>
<circle cx="937.8" cy="2309.6" r="3.55"/>
<circle cx="923.3" cy="2316.7" r="3.55"/>
<circle cx="959.4" cy="2334.9" r="3.55"/>
<circle cx="966.2" cy="2398.1" r="3.55"/>
</g>
<clipPath id="cpg"><path d="M943.2 2059.6 L943.3 2061.6 L943.4 2063.6 L943.5 2065.6 L943.6 2067.6 L943.8 2069.6 L944.1 2071.6 L944.4 2073.6 L944.9 2075.6 L945.4 2077.6 L946.1 2079.6 L947 2081.5 L948 2083.5 L949.3 2085.5 L950.8 2087.5 L952.5 2089.5 L954.4 2091.5 L956.5 2093.5 L958.8 2095.5 L961.3 2097.5 L963.9 2099.5 L966.6 2101.5 L969.3 2103.5 L971.9 2105.5 L974.4 2107.5 L976.6 2109.5 L978.6 2111.5 L980.1 2113.5 L981.3 2115.5 L981.9 2117.5 L982.1 2119.4 L981.8 2121.4 L980.9 2123.4 L979.7 2125.4 L978 2127.4 L976 2129.4 L973.7 2131.4 L971.2 2133.4 L968.6 2135.4 L966 2137.4 L963.3 2139.4 L960.8 2141.4 L958.3 2143.4 L956.1 2145.4 L954 2147.4 L952.1 2149.4 L950.5 2151.4 L949.1 2153.4 L947.9 2155.4 L946.9 2157.4 L946 2159.4 L945.4 2161.3 L944.8 2163.3 L944.4 2165.3 L944.1 2167.3 L943.8 2169.3 L943.6 2171.3 L943.5 2173.3 L943.4 2175.3 L943.3 2177.3 L943.2 2179.3 L943 2179.3 L942.9 2177.3 L942.8 2175.3 L942.7 2173.3 L942.6 2171.3 L942.4 2169.3 L942.1 2167.3 L941.8 2165.3 L941.4 2163.3 L940.8 2161.3 L940.2 2159.4 L939.3 2157.4 L938.3 2155.4 L937.1 2153.4 L935.7 2151.4 L934.1 2149.4 L932.2 2147.4 L930.1 2145.4 L927.9 2143.4 L925.4 2141.4 L922.9 2139.4 L920.2 2137.4 L917.6 2135.4 L915 2133.4 L912.5 2131.4 L910.2 2129.4 L908.2 2127.4 L906.5 2125.4 L905.3 2123.4 L904.4 2121.4 L904.1 2119.4 L904.3 2117.5 L904.9 2115.5 L906.1 2113.5 L907.6 2111.5 L909.6 2109.5 L911.8 2107.5 L914.3 2105.5 L916.9 2103.5 L919.6 2101.5 L922.3 2099.5 L924.9 2097.5 L927.4 2095.5 L929.7 2093.5 L931.8 2091.5 L933.7 2089.5 L935.4 2087.5 L936.9 2085.5 L938.2 2083.5 L939.2 2081.5 L940.1 2079.6 L940.8 2077.6 L941.3 2075.6 L941.8 2073.6 L942.1 2071.6 L942.4 2069.6 L942.6 2067.6 L942.7 2065.6 L942.8 2063.6 L942.9 2061.6 L943 2059.6 Z"/></clipPath>
<rect x="902.1" y="2100.2" width="82" height="38.3" fill="#000" fill-opacity="0.2" clip-path="url(#cpg)"/>
<path d="M943.2 2059.6 L943.3 2061.6 L943.4 2063.6 L943.5 2065.6 L943.6 2067.6 L943.8 2069.6 L944.1 2071.6 L944.4 2073.6 L944.9 2075.6 L945.4 2077.6 L946.1 2079.6 L947 2081.5 L948 2083.5 L949.3 2085.5 L950.8 2087.5 L952.5 2089.5 L954.4 2091.5 L956.5 2093.5 L958.8 2095.5 L961.3 2097.5 L963.9 2099.5 L966.6 2101.5 L969.3 2103.5 L971.9 2105.5 L974.4 2107.5 L976.6 2109.5 L978.6 2111.5 L980.1 2113.5 L981.3 2115.5 L981.9 2117.5 L982.1 2119.4 L981.8 2121.4 L980.9 2123.4 L979.7 2125.4 L978 2127.4 L976 2129.4 L973.7 2131.4 L971.2 2133.4 L968.6 2135.4 L966 2137.4 L963.3 2139.4 L960.8 2141.4 L958.3 2143.4 L956.1 2145.4 L954 2147.4 L952.1 2149.4 L950.5 2151.4 L949.1 2153.4 L947.9 2155.4 L946.9 2157.4 L946 2159.4 L945.4 2161.3 L944.8 2163.3 L944.4 2165.3 L944.1 2167.3 L943.8 2169.3 L943.6 2171.3 L943.5 2173.3 L943.4 2175.3 L943.3 2177.3 L943.2 2179.3 L943 2179.3 L942.9 2177.3 L942.8 2175.3 L942.7 2173.3 L942.6 2171.3 L942.4 2169.3 L942.1 2167.3 L941.8 2165.3 L941.4 2163.3 L940.8 2161.3 L940.2 2159.4 L939.3 2157.4 L938.3 2155.4 L937.1 2153.4 L935.7 2151.4 L934.1 2149.4 L932.2 2147.4 L930.1 2145.4 L927.9 2143.4 L925.4 2141.4 L922.9 2139.4 L920.2 2137.4 L917.6 2135.4 L915 2133.4 L912.5 2131.4 L910.2 2129.4 L908.2 2127.4 L906.5 2125.4 L905.3 2123.4 L904.4 2121.4 L904.1 2119.4 L904.3 2117.5 L904.9 2115.5 L906.1 2113.5 L907.6 2111.5 L909.6 2109.5 L911.8 2107.5 L914.3 2105.5 L916.9 2103.5 L919.6 2101.5 L922.3 2099.5 L924.9 2097.5 L927.4 2095.5 L929.7 2093.5 L931.8 2091.5 L933.7 2089.5 L935.4 2087.5 L936.9 2085.5 L938.2 2083.5 L939.2 2081.5 L940.1 2079.6 L940.8 2077.6 L941.3 2075.6 L941.8 2073.6 L942.1 2071.6 L942.4 2069.6 L942.6 2067.6 L942.7 2065.6 L942.8 2063.6 L942.9 2061.6 L943 2059.6 Z" fill="none" stroke="#000" stroke-width="3.05" stroke-linejoin="round"/>
<line x1="904.1" y1="2119.1" x2="982.1" y2="2119.1" stroke="#000" stroke-width="2.9"/>
<g stroke="#000" stroke-width="3.2" fill="none" stroke-linecap="round" stroke-linejoin="round">
<path d="M838.1 1813.6 V2420.7 H1046.7"/>
<line x1="828.7" y1="1926.2" x2="838.1" y2="1926.2"/>
<line x1="828.7" y1="2138.3" x2="838.1" y2="2138.3"/>
<line x1="828.7" y1="2350.3" x2="838.1" y2="2350.3"/>
<line x1="838.1" y1="2350.3" x2="1046.7" y2="2350.3"/>
<line x1="943.1" y1="2420.7" x2="943.1" y2="2430.1"/>
</g>
<g font-family="Liberation Sans, Arial, sans-serif" font-weight="bold" fill="#000" stroke="#000" stroke-width="0.3">
<text transform="translate(819.7 1935.3) scale(1 1.04)" font-size="25.3" text-anchor="end">100</text>
<text transform="translate(819.7 2147.4) scale(1 1.04)" font-size="25.3" text-anchor="end">10</text>
<text transform="translate(819.7 2359.4) scale(1 1.04)" font-size="25.3" text-anchor="end">1</text>
<text transform="translate(940.6 2454) scale(1 1.04)" font-size="22.5" text-anchor="middle">FSS-4M</text>
<text transform="translate(937.8 1793.5) scale(1 1.04)" font-size="25.3" text-anchor="middle" font-style="italic" textLength="58" lengthAdjust="spacingAndGlyphs">n=34</text>
<text transform="translate(940.9 1824.4) scale(1 1.04)" font-size="25.3" text-anchor="middle" textLength="108" lengthAdjust="spacingAndGlyphs">P&lt;0.0001</text>
<text transform="translate(766.9 2043.9) rotate(-90) scale(1 1.03)" font-size="25.4" text-anchor="middle" textLength="330.5" lengthAdjust="spacingAndGlyphs">Relative Replicative Fitness</text>
</g>
<text transform="translate(668.6 1807.1) scale(0.958 1)" font-family="Liberation Sans, Arial, sans-serif" font-weight="bold" font-size="70.8" fill="#000" stroke="#000" stroke-width="1.2" stroke-linejoin="round">g</text>
<rect x="1116.4" y="486.2" width="90.7" height="41.7" fill="#ff0000"/>
<rect x="1116.4" y="544.2" width="90.7" height="42.1" fill="#0000ff"/>
<g font-family="Liberation Sans, Arial, sans-serif" font-weight="bold" font-size="33" fill="#000">
<text transform="translate(1224 520.5) scale(1 1.035)" textLength="315" lengthAdjust="spacingAndGlyphs">DK (African lineage)</text>
<text transform="translate(1224 578.6) scale(1 1.035)" textLength="523" lengthAdjust="spacingAndGlyphs">FSS (Pre-epidemic Asian lineage)</text>
</g>
<rect x="775" y="716.5" width="1.5" height="4" fill="#a8a8a8"/><rect x="169.5" y="2137.5" width="3" height="1.2" fill="#555"/>
</svg></body></html>
